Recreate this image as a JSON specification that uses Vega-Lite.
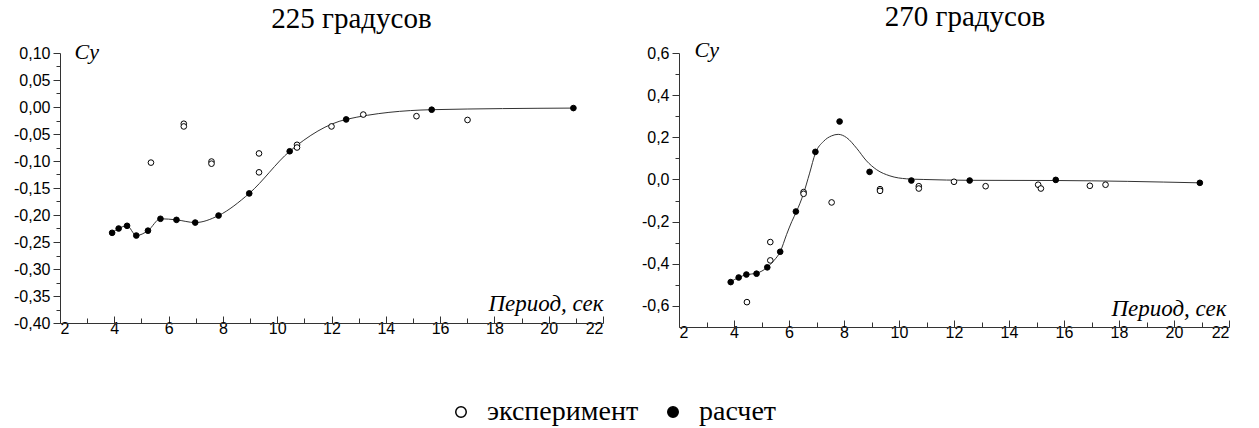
{
  "$schema": "https://vega.github.io/schema/vega-lite/v6.json",
  "padding": {"left": 13, "top": 3, "right": 0, "bottom": 2},
  "spacing": 29,
  "config": {
    "view": {"stroke": null},
    "font": "Liberation Sans",
    "axis": {
      "grid": false,
      "domainColor": "#333",
      "tickColor": "#333",
      "labelFont": "Liberation Sans",
      "labelFontSize": 16,
      "labelColor": "#000",
      "labelOverlap": false,
      "titleFont": "Liberation Serif",
      "titleFontStyle": "italic",
      "titleFontWeight": "normal",
      "titleColor": "#000"
    },
    "title": {"font": "Liberation Serif", "fontSize": 29, "fontWeight": "normal", "color": "#000", "frame": "group", "baseline": "alphabetic", "offset": 6},
    "legend": {
      "orient": "none",
      "legendX": 387,
      "legendY": 345,
      "direction": "horizontal",
      "padding": 0,
      "labelFont": "Liberation Serif",
      "labelFontSize": 28,
      "labelColor": "#000",
      "symbolType": "circle",
      "symbolSize": 110,
      "symbolStrokeWidth": 1.5,
      "symbolStrokeColor": "#000",
      "labelOffset": 12,
      "columnPadding": 20
    }
  },
  "datasets": {
    "pts225": [
      {"T": 3.92, "Cy": -0.233, "type": "расчет"},
      {"T": 4.16, "Cy": -0.225, "type": "расчет"},
      {"T": 4.47, "Cy": -0.220, "type": "расчет"},
      {"T": 4.81, "Cy": -0.238, "type": "расчет"},
      {"T": 5.24, "Cy": -0.229, "type": "расчет"},
      {"T": 5.70, "Cy": -0.207, "type": "расчет"},
      {"T": 6.29, "Cy": -0.209, "type": "расчет"},
      {"T": 6.98, "Cy": -0.214, "type": "расчет"},
      {"T": 7.84, "Cy": -0.201, "type": "расчет"},
      {"T": 8.97, "Cy": -0.160, "type": "расчет"},
      {"T": 10.46, "Cy": -0.082, "type": "расчет"},
      {"T": 12.54, "Cy": -0.023, "type": "расчет"},
      {"T": 15.69, "Cy": -0.005, "type": "расчет"},
      {"T": 20.91, "Cy": -0.002, "type": "расчет"},
      {"T": 5.35, "Cy": -0.103, "type": "эксперимент"},
      {"T": 6.56, "Cy": -0.031, "type": "эксперимент"},
      {"T": 6.56, "Cy": -0.036, "type": "эксперимент"},
      {"T": 7.58, "Cy": -0.101, "type": "эксперимент"},
      {"T": 7.58, "Cy": -0.105, "type": "эксперимент"},
      {"T": 9.33, "Cy": -0.086, "type": "эксперимент"},
      {"T": 9.33, "Cy": -0.121, "type": "эксперимент"},
      {"T": 10.73, "Cy": -0.070, "type": "эксперимент"},
      {"T": 10.73, "Cy": -0.075, "type": "эксперимент"},
      {"T": 12.0, "Cy": -0.036, "type": "эксперимент"},
      {"T": 13.17, "Cy": -0.014, "type": "эксперимент"},
      {"T": 15.13, "Cy": -0.017, "type": "эксперимент"},
      {"T": 17.01, "Cy": -0.024, "type": "эксперимент"}
    ],
    "pts270": [
      {"T": 3.88, "Cy": -0.487, "type": "расчет"},
      {"T": 4.17, "Cy": -0.465, "type": "расчет"},
      {"T": 4.45, "Cy": -0.451, "type": "расчет"},
      {"T": 4.82, "Cy": -0.447, "type": "расчет"},
      {"T": 5.21, "Cy": -0.417, "type": "расчет"},
      {"T": 5.68, "Cy": -0.343, "type": "расчет"},
      {"T": 6.25, "Cy": -0.152, "type": "расчет"},
      {"T": 6.96, "Cy": 0.131, "type": "расчет"},
      {"T": 7.84, "Cy": 0.275, "type": "расчет"},
      {"T": 8.93, "Cy": 0.036, "type": "расчет"},
      {"T": 10.45, "Cy": -0.005, "type": "расчет"},
      {"T": 12.57, "Cy": -0.005, "type": "расчет"},
      {"T": 15.70, "Cy": -0.002, "type": "расчет"},
      {"T": 20.94, "Cy": -0.016, "type": "расчет"},
      {"T": 4.47, "Cy": -0.582, "type": "эксперимент"},
      {"T": 5.32, "Cy": -0.297, "type": "эксперимент"},
      {"T": 5.32, "Cy": -0.384, "type": "эксперимент"},
      {"T": 6.53, "Cy": -0.060, "type": "эксперимент"},
      {"T": 6.53, "Cy": -0.068, "type": "эксперимент"},
      {"T": 7.55, "Cy": -0.109, "type": "эксперимент"},
      {"T": 9.31, "Cy": -0.046, "type": "эксперимент"},
      {"T": 9.31, "Cy": -0.054, "type": "эксперимент"},
      {"T": 10.72, "Cy": -0.032, "type": "эксперимент"},
      {"T": 10.72, "Cy": -0.043, "type": "эксперимент"},
      {"T": 12.0, "Cy": -0.011, "type": "эксперимент"},
      {"T": 13.15, "Cy": -0.032, "type": "эксперимент"},
      {"T": 15.06, "Cy": -0.025, "type": "эксперимент"},
      {"T": 15.16, "Cy": -0.043, "type": "эксперимент"},
      {"T": 16.94, "Cy": -0.030, "type": "эксперимент"},
      {"T": 17.51, "Cy": -0.025, "type": "эксперимент"}
    ],
    "fit270": [
      {"T": 3.88, "Cy": -0.485},
      {"T": 4.17, "Cy": -0.465},
      {"T": 4.45, "Cy": -0.452},
      {"T": 4.82, "Cy": -0.445},
      {"T": 5.21, "Cy": -0.417},
      {"T": 5.45, "Cy": -0.385},
      {"T": 5.68, "Cy": -0.343},
      {"T": 5.91, "Cy": -0.262},
      {"T": 6.10, "Cy": -0.200},
      {"T": 6.28, "Cy": -0.150},
      {"T": 6.52, "Cy": -0.070},
      {"T": 6.75, "Cy": 0.030},
      {"T": 6.96, "Cy": 0.125},
      {"T": 7.25, "Cy": 0.180},
      {"T": 7.55, "Cy": 0.207},
      {"T": 7.79, "Cy": 0.214},
      {"T": 8.09, "Cy": 0.199},
      {"T": 8.46, "Cy": 0.148},
      {"T": 8.82, "Cy": 0.088},
      {"T": 9.19, "Cy": 0.046},
      {"T": 9.67, "Cy": 0.017},
      {"T": 10.28, "Cy": 0.003},
      {"T": 10.88, "Cy": 0.000},
      {"T": 12.57, "Cy": -0.004},
      {"T": 15.70, "Cy": -0.005},
      {"T": 20.94, "Cy": -0.016}
    ]
  },
  "resolve": {
    "scale": {"x": "independent", "y": "independent", "fill": "shared"},
    "legend": {"fill": "shared"}
  },
  "hconcat": [
    {
      "width": 543,
      "height": 270,
      "title": {"text": "225 градусов", "dx": 20},
      "encoding": {
        "x": {
          "field": "T", "type": "quantitative",
          "scale": {"domain": [2, 22], "nice": false, "zero": false},
          "axis": {
            "values": [2, 3, 4, 5, 6, 7, 8, 9, 10, 11, 12, 13, 14, 15, 16, 17, 18, 19, 20, 21, 22],
            "labelExpr": "datum.value % 2 === 0 ? datum.label : ''",
            "labelOverlap": false,
            "tickSize": {"condition": {"test": "datum.value % 2 === 0", "value": -7}, "value": -5},
            "labelPadding": 4,
            "title": "Период, сек",
            "titleFontSize": 23,
            "titleX": 543,
            "titleY": -13,
            "titleAlign": "right",
            "titleBaseline": "alphabetic"
          }
        },
        "y": {
          "field": "Cy", "type": "quantitative",
          "scale": {"domain": [-0.4, 0.1], "nice": false, "zero": false},
          "axis": {
            "values": [-0.4, -0.375, -0.35, -0.325, -0.3, -0.275, -0.25, -0.225, -0.2, -0.175, -0.15, -0.125, -0.1, -0.075, -0.05, -0.025, 0, 0.025, 0.05, 0.075, 0.1],
            "labelExpr": "round(datum.value * 40) % 2 === 0 ? replace(replace(format(datum.value, '.2f'), '.', ','), '\u2212', '-') : ''",
            "labelOverlap": false,
            "tickSize": {"condition": {"test": "round(datum.value * 40) % 2 === 0", "value": 7}, "value": 4},
            "labelPadding": 3,
            "minExtent": 46,
            "maxExtent": 46,
            "title": "Cy",
            "titleFontSize": 22,
            "titleAngle": 0,
            "titleX": 14,
            "titleY": 5,
            "titleAlign": "left",
            "titleBaseline": "alphabetic"
          }
        }
      },
      "layer": [
        {
          "data": {"name": "pts225"},
          "transform": [{"filter": "datum.type === 'расчет'"}],
          "mark": {"type": "line", "color": "#333", "strokeWidth": 1, "interpolate": "monotone"}
        },
        {
          "data": {"name": "pts225"},
          "mark": {"type": "point", "shape": "circle", "filled": true, "stroke": "#000", "strokeWidth": 1, "size": 32, "opacity": 1},
          "encoding": {
            "fill": {
              "field": "type", "type": "nominal",
              "scale": {"domain": ["эксперимент", "расчет"], "range": ["#ffffff", "#000000"]},
              "legend": {"title": null, "labelFont": "Liberation Serif", "labelFontSize": 28}
            }
          }
        }
      ]
    },
    {
      "width": 550,
      "height": 274,
      "title": {"text": "270 градусов", "dx": 11},
      "encoding": {
        "x": {
          "field": "T", "type": "quantitative",
          "scale": {"domain": [2, 22], "nice": false, "zero": false},
          "axis": {
            "values": [2, 3, 4, 5, 6, 7, 8, 9, 10, 11, 12, 13, 14, 15, 16, 17, 18, 19, 20, 21, 22],
            "labelExpr": "datum.value % 2 === 0 ? datum.label : ''",
            "labelOverlap": false,
            "tickSize": {"condition": {"test": "datum.value % 2 === 0", "value": -7}, "value": -5},
            "labelPadding": 4,
            "title": "Период, сек",
            "titleFontSize": 23,
            "titleX": 547,
            "titleY": -12,
            "titleAlign": "right",
            "titleBaseline": "alphabetic"
          }
        },
        "y": {
          "field": "Cy", "type": "quantitative",
          "scale": {"domain": [-0.7, 0.6], "nice": false, "zero": false},
          "axis": {
            "values": [-0.6, -0.5, -0.4, -0.3, -0.2, -0.1, 0, 0.1, 0.2, 0.3, 0.4, 0.5, 0.6],
            "labelExpr": "round(datum.value * 10) % 2 === 0 ? replace(replace(format(datum.value, '.1f'), '.', ','), '\u2212', '-') : ''",
            "labelOverlap": false,
            "tickSize": {"condition": {"test": "round(datum.value * 10) % 2 === 0", "value": 7}, "value": 4},
            "labelPadding": 3,
            "minExtent": 46,
            "maxExtent": 46,
            "title": "Cy",
            "titleFontSize": 22,
            "titleAngle": 0,
            "titleX": 15,
            "titleY": 3,
            "titleAlign": "left",
            "titleBaseline": "alphabetic"
          }
        }
      },
      "layer": [
        {
          "data": {"name": "fit270"},
          "mark": {"type": "line", "color": "#333", "strokeWidth": 1, "interpolate": "monotone"}
        },
        {
          "data": {"name": "pts270"},
          "mark": {"type": "point", "shape": "circle", "filled": true, "stroke": "#000", "strokeWidth": 1, "size": 32, "opacity": 1},
          "encoding": {
            "fill": {
              "field": "type", "type": "nominal",
              "scale": {"domain": ["эксперимент", "расчет"], "range": ["#ffffff", "#000000"]},
              "legend": {"title": null, "labelFont": "Liberation Serif", "labelFontSize": 28}
            }
          }
        }
      ]
    }
  ]
}
